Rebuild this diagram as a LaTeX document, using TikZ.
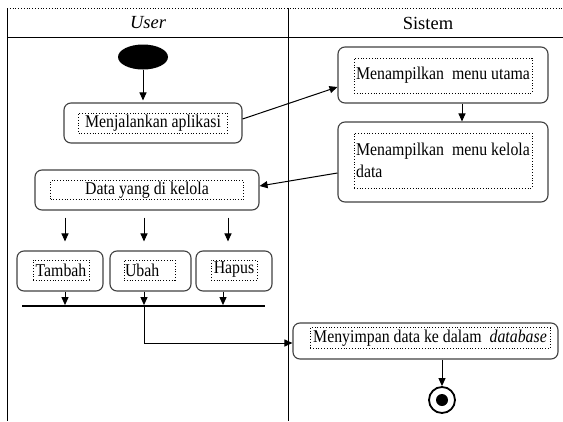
\documentclass[tikz,border=0pt]{standalone}
\usepackage{fontspec}
\setmainfont{Liberation Serif}
\newfontfamily\kotak{Liberation Serif}[FakeStretch=0.88]
\usetikzlibrary{arrows.meta, positioning, shapes.geometric}

\begin{document}
\begin{tikzpicture}[
  x=1pt, y=-1pt,
  aktivitas/.style={draw=black!75, line width=1.1pt, rounded corners=7pt, inner sep=0pt},
  teks/.style={draw, dotted, line width=0.8pt, inner sep=1pt, align=left, font=\kotak\fontsize{18}{22}\selectfont},
  judul/.style={font=\fontsize{18.5}{20}\selectfont},
  garis/.style={line width=0.9pt},
  panah/.style={->, line width=1pt},
  >={Triangle[length=8pt, width=7pt]}
]
\useasboundingbox (0,0) rectangle (563,421);

% tabel swimlane
\draw[dotted, line width=0.8pt] (7,8) -- (563,8);
\draw[garis] (7,8) -- (7,421);
\draw[garis] (288,8) -- (288,421);
\draw[garis] (7,37) -- (563,37);
\node[judul, font=\fontsize{18.5}{20}\selectfont\itshape] (user) at (148,23) {User};
\node[judul] (sistem) at (428,23) {Sistem};

% user
\node[ellipse, fill=black, minimum width=50pt, minimum height=25pt, inner sep=0pt] (mulai) at (143,57) {};
\node[aktivitas, minimum width=178pt, minimum height=40pt] (jalan) at (153,123) {};
\node[teks, minimum width=149pt, minimum height=20pt] (jalanT) at (jalan) {Menjalankan aplikasi};
\node[aktivitas, minimum width=224pt, minimum height=40pt] (data) at (147,190) {};
\node[teks, minimum width=193pt, minimum height=19pt, align=center] (dataT) at (data) {Data yang di kelola};
\node[aktivitas, minimum width=86pt, minimum height=40pt] (tambah) at (60,271) {};
\node[teks, minimum width=56pt, minimum height=20pt] (tambahT) at (61,270) {Tambah};
\node[aktivitas, minimum width=81pt, minimum height=40pt] (ubah) at (150.5,271) {};
\node[teks, text width=49pt, minimum height=20pt] (ubahT) at (149.5,270) {Ubah};
\node[aktivitas, minimum width=76pt, minimum height=40pt] (hapus) at (234,271) {};
\node[teks, minimum width=46pt, minimum height=20pt] (hapusT) at (234,270) {Hapus};
\node[fill=black, minimum width=243pt, minimum height=1.4pt, inner sep=0pt] (gabung) at (143.5,306) {};

% sistem
\node[aktivitas, minimum width=210pt, minimum height=56pt] (utama) at (443,75) {};
\node[teks, minimum width=178pt, minimum height=35pt] (utamaT) at (443,75.5) {Menampilkan\ \ menu utama};
\node[aktivitas, minimum width=210pt, minimum height=80pt] (kelola) at (443,162) {};
\node[teks, minimum width=178pt, minimum height=55pt] (kelolaT) at (443,160.5) {Menampilkan\ \ menu kelola\\data};
\node[aktivitas, minimum width=265pt, minimum height=36pt] (simpan) at (425.5,341) {};
\node[teks, minimum width=240pt, minimum height=21pt] (simpanT) at (430,338) {Menyimpan data ke dalam\ \ \textit{database}};
\node[circle, draw, line width=1.8pt, minimum size=26pt, inner sep=0pt] (akhir) at (442,400) {};
\fill (akhir.center) circle (6pt);

% kolom panah
\coordinate (kolA) at ([xshift=5pt]tambah.center);
\coordinate (kolB) at ([xshift=-6.5pt]ubah.center);
\coordinate (kolC) at ([xshift=-6pt]hapus.center);
\coordinate (kolD) at ([xshift=-11pt]hapus.center);

\draw[panah, shorten >=2pt] (mulai) -- (mulai |- jalan.north);
\draw[panah] ([yshift=4pt]jalan.east) -- ([yshift=-12pt]utama.west);
\draw[panah] ([xshift=19pt]utama.south) -- ([xshift=19pt]kelola.north);
\draw[panah] ([yshift=-11pt]kelola.west) -- ([yshift=4pt]data.east);
\draw[panah, shorten <=7pt, shorten >=9pt] (kolA |- data.south) -- (kolA |- tambah.north);
\draw[panah, shorten <=7pt, shorten >=9pt] (kolB |- data.south) -- (kolB |- ubah.north);
\draw[panah, shorten <=7pt, shorten >=9pt] (kolC |- data.south) -- (kolC |- hapus.north);
\draw[panah] (kolA |- tambah.south) -- (kolA |- gabung.north);
\draw[panah] (kolB |- ubah.south) -- (kolB |- gabung.north);
\draw[panah] (kolD |- hapus.south) -- (kolD |- gabung.north);
\draw[panah] (kolB |- gabung.south) |- ([yshift=-2pt]simpan.west);
\draw[panah] (akhir |- simpan.south) -- (akhir);
\end{tikzpicture}
\end{document}
